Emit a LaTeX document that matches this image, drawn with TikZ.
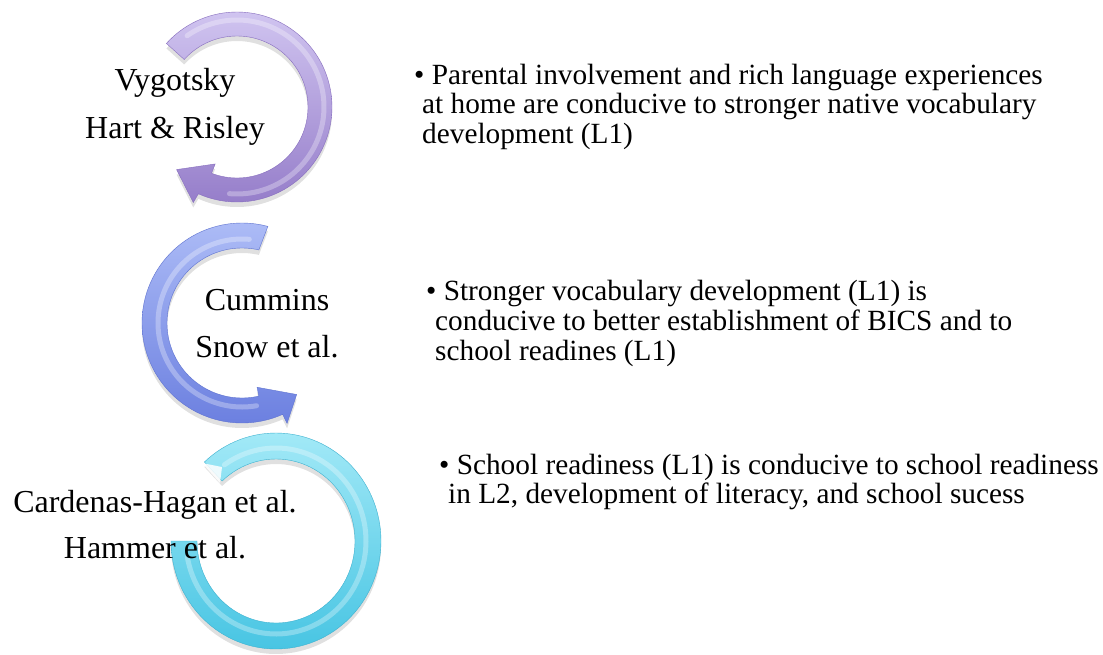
\documentclass[tikz,border=0pt]{standalone}
\usepackage{fontspec}
\setmainfont{Liberation Serif}
\definecolor{purpleTop}{RGB}{208,196,240}
\definecolor{purpleBot}{RGB}{150,126,202}
\definecolor{purpleEdge}{RGB}{135,110,190}
\definecolor{blueTop}{RGB}{172,187,246}
\definecolor{blueBot}{RGB}{108,128,224}
\definecolor{blueEdge}{RGB}{95,115,208}
\definecolor{cyanTop}{RGB}{162,233,247}
\definecolor{cyanBot}{RGB}{72,197,227}
\definecolor{cyanEdge}{RGB}{62,178,208}
\newcommand\purpleshape{plot[domain=222:474,samples=90] ({237+95*cos(\x)},{107+95*sin(\x)})
  -- ({237+105*cos(114.6)},{107+105*sin(114.6)})
  -- ({237+87*cos(134)},{107+87*sin(134)})
  -- ({237+61*cos(111)},{107+61*sin(111)})
  -- plot[domain=471:222,samples=90] ({237+71*cos(\x)},{107+71*sin(\x)}) -- cycle}
\newcommand\blueshape{plot[domain=285:66,samples=90] ({242+100*cos(\x)},{323+100*sin(\x)})
  -- ({242+110*cos(65.8)},{323+110*sin(65.8)})
  -- ({242+90*cos(52.6)},{323+90*sin(52.6)})
  -- ({242+66*cos(76.8)},{323+66*sin(76.8)})
  -- plot[domain=77:283,samples=90] ({242+75*cos(\x)},{323+75*sin(\x)}) -- cycle}
\newcommand\cyanshape{plot[domain=180:-133,samples=110] ({276+105*cos(\x)},{541+108*sin(\x)})
  -- plot[domain=-133:180,samples=110] ({276+79*cos(\x)},{541+82*sin(\x)}) -- cycle}
\tikzset{
  lefttext/.style={font=\fontsize{32}{38}\selectfont, anchor=base, inner sep=0pt},
  righttext/.style={font=\fontsize{29.3}{30}\selectfont, anchor=base west, inner sep=0pt},
  shadowfill/.style={fill=black, opacity=0.12},
  sheen/.style={draw=white, line width=5pt, opacity=0.3, line cap=round}
}
\begin{document}
\begin{tikzpicture}[x=1pt,y=-1pt]
\useasboundingbox[fill=white] (0,0) rectangle (1103,654);
% shadows
\begin{scope}[yshift=-5pt]
\fill[shadowfill] \purpleshape;
\fill[shadowfill] \blueshape;
\fill[shadowfill] \cyanshape;
\end{scope}
% purple arrow
\path[top color=purpleTop, bottom color=purpleBot, draw=purpleEdge, line width=0.4pt] \purpleshape;
\draw[sheen] plot[domain=235:455,samples=80] ({237+87*cos(\x)},{107+87*sin(\x)});
% blue arrow
\path[top color=blueTop, bottom color=blueBot, draw=blueEdge, line width=0.4pt] \blueshape;
\draw[sheen] plot[domain=275:80,samples=80] ({242+84*cos(\x)},{323+84*sin(\x)});
% cyan arrow
\path[top color=cyanTop, bottom color=cyanBot, draw=cyanEdge, line width=0.4pt] \cyanshape;
\draw[sheen] plot[domain=170:-125,samples=100] ({276+90*cos(\x)},{541+93*sin(\x)});
\fill[white, opacity=0.85] (202,463) -- (222,467) -- (220,483) -- cycle;
% left labels
\node[lefttext] (vyg) at (175,90) {Vygotsky};
\node[lefttext] (hart) at (175,138) {Hart \& Risley};
\node[lefttext] (cum) at (267,310) {Cummins};
\node[lefttext] (snow) at (267,357) {Snow et al.};
\node[lefttext] (card) at (155,512) {Cardenas-Hagan et al.};
\node[lefttext] (ham) at (155,558) {Hammer et al.};
% right texts
\node[righttext] (a1) at (414,84) {• Parental involvement and rich language experiences};
\node[righttext] (a2) at (422,113) {at home are conducive to stronger native vocabulary};
\node[righttext] (a3) at (422,143) {development (L1)};
\node[righttext] (b1) at (426,300) {• Stronger vocabulary development (L1) is};
\node[righttext] (b2) at (435,330) {conducive to better establishment of BICS and to};
\node[righttext] (b3) at (435,360) {school readines (L1)};
\node[righttext] (c1) at (439,474) {• School readiness (L1) is conducive to school readiness};
\node[righttext] (c2) at (448,503) {in L2, development of literacy, and school sucess};
\end{tikzpicture}
\end{document}
